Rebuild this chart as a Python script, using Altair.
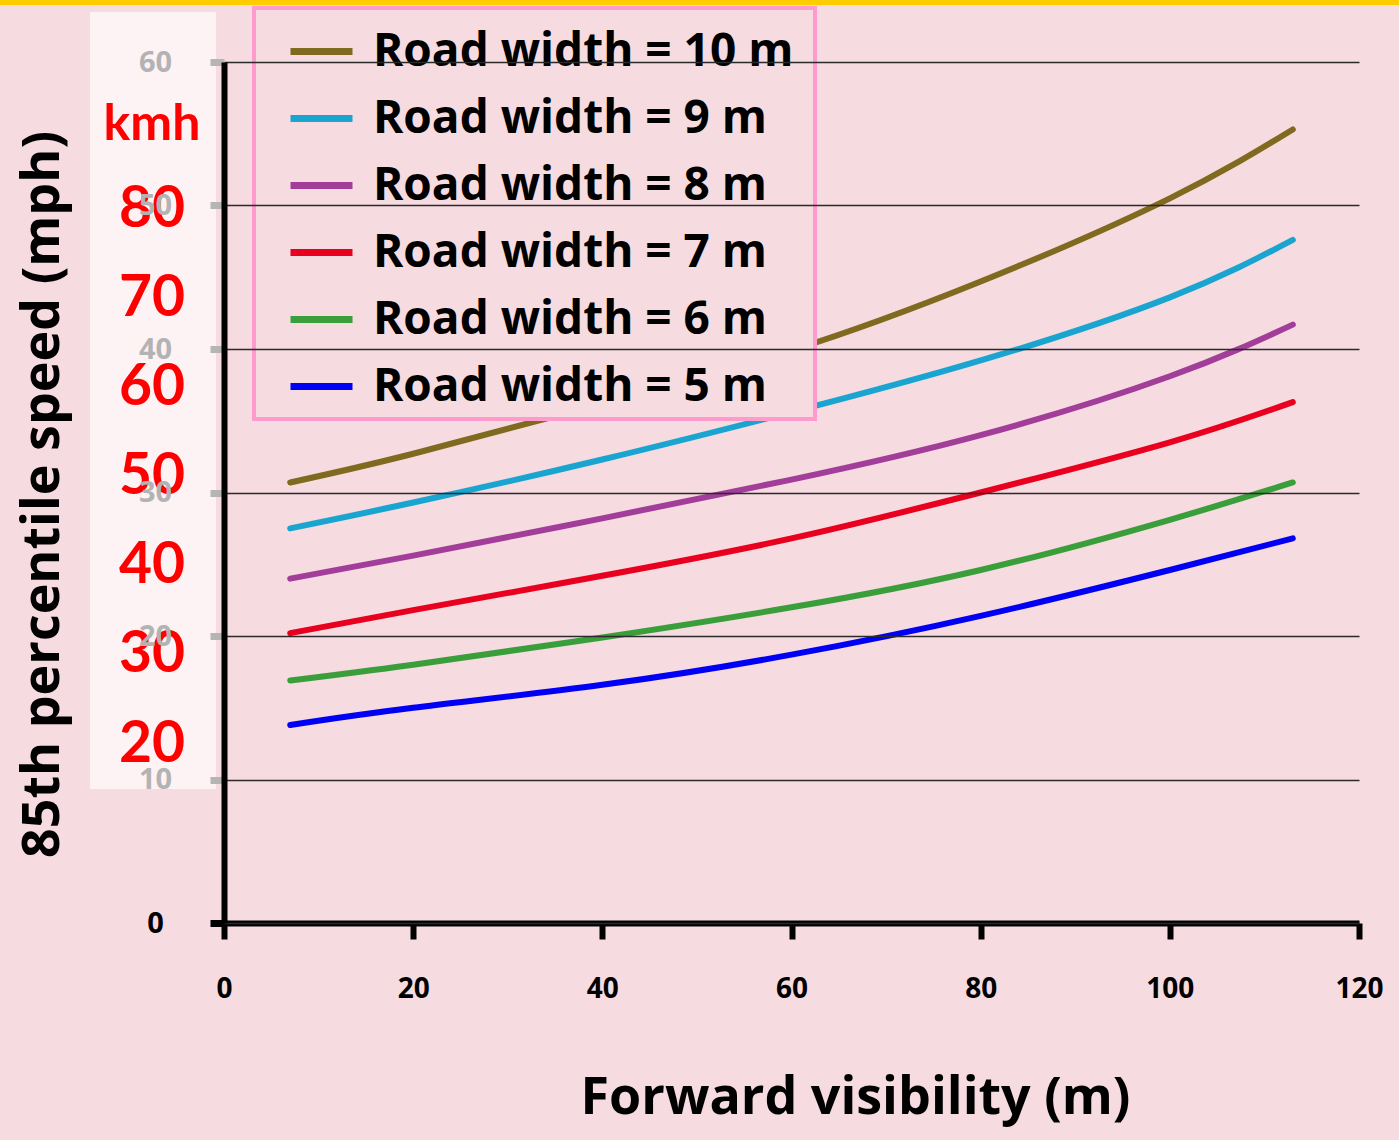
import altair as alt
import pandas as pd

# ---- data ----
visibility = [7, 20, 40, 60, 80, 100, 113]
series_labels = [
    "Road width = 10  m",
    "Road width = 9 m",
    "Road width = 8 m",
    "Road width = 7 m",
    "Road width = 6 m",
    "Road width = 5 m",
]
speed_w10 = [30.7, 32.7, 36.2, 39.9, 44.7, 50.5, 55.3]
speed_w9 = [27.5, 29.3, 32.3, 35.6, 39.2, 43.6, 47.6]
speed_w8 = [24.0, 25.6, 28.2, 30.9, 34.0, 38.1, 41.7]
speed_w7 = [20.2, 21.8, 24.2, 26.8, 30.0, 33.5, 36.3]
speed_w6 = [16.9, 18.0, 19.9, 22.0, 24.6, 28.1, 30.7]
speed_w5 = [13.8, 15.0, 16.6, 18.7, 21.4, 24.6, 26.8]
series_colors = ["#7F6A1F", "#19A5D0", "#A23E9A", "#E8001E", "#3A9E3A", "#0000F5"]

kmh_values = [80, 70, 60, 50, 40, 30, 20]
x_ticks = [0, 20, 40, 60, 80, 100, 120]
y_ticks = [0, 10, 20, 30, 40, 50, 60]

BG = "#F6DBE0"

rows = []
for lab, ys in zip(series_labels, [speed_w10, speed_w9, speed_w8, speed_w7, speed_w6, speed_w5]):
    for x, y in zip(visibility, ys):
        rows.append({"vis": x, "speed": y, "series": lab})
df = pd.DataFrame(rows)

W, H = 1135, 861

y_scale = alt.Scale(domain=[0, 60], nice=False, zero=True)
x_scale = alt.Scale(domain=[0, 120], nice=False)

# yellow strip at the top of the picture
strip = alt.Chart(pd.DataFrame({"k": [0]})).mark_rect(color="#FFCC00").encode(
    x=alt.value(-224), x2=alt.value(1175), y=alt.value(-62), y2=alt.value(-57)
)

# white panel behind the kmh labels
panel = alt.Chart(pd.DataFrame({"k": [0]})).mark_rect(color="#FDF3F5").encode(
    x=alt.value(-134), x2=alt.value(-8), y=alt.value(-50), y2=alt.value(727)
)

lines = alt.Chart(df).mark_line(strokeWidth=6, strokeCap="round", interpolate="natural").encode(
    x=alt.X(
        "vis:Q",
        scale=x_scale,
        axis=alt.Axis(
            values=x_ticks,
            grid=False,
            domainColor="black",
            domainWidth=6,
            tickColor="black",
            tickWidth=6,
            tickSize=16,
            labelFont="Open Sans",
            labelFontWeight="bold",
            labelFontSize=28,
            labelColor="black",
            labelPadding=36,
            labelFlush=False,
            title="Forward visibility (m)",
            titleFont="Open Sans",
            titleFontWeight="bold",
            titleFontSize=52,
            titleColor="black",
            titleX=631,
            titleY=174,
            titleBaseline="middle",
            titleAlign="center",
        ),
    ),
    y=alt.Y(
        "speed:Q",
        scale=y_scale,
        axis=alt.Axis(
            values=y_ticks,
            grid=True,
            gridColor="#2a2a2a",
            gridWidth=1.5,
            domainColor="black",
            domainWidth=6,
            tickColor={"condition": {"test": "datum.value === 0", "value": "#000000"}, "value": "#b5b5b5"},
            tickWidth=7,
            tickSize=14,
            labelFont="Open Sans",
            labelFontWeight="bold",
            labelFontSize=29,
            labelColor={"condition": {"test": "datum.value === 0", "value": "#000000"}, "value": "#b3b3b3"},
            labelAlign="center",
            labelPadding=55,
            labelFlush=False,
            title="85th percentile speed (mph)",
            titleFont="Open Sans",
            titleFontWeight="bold",
            titleFontSize=52,
            titleColor="black",
            titleX=-182,
            titleY=432,
            titleAngle=-90,
            titleAlign="center",
            titleBaseline="middle",
            zindex=1,
        ),
    ),
    color=alt.Color(
        "series:N",
        scale=alt.Scale(domain=series_labels, range=series_colors),
        legend=alt.Legend(
            orient="none",
            legendX=30,
            legendY=-54,
            title=None,
            symbolType="stroke",
        ),
    ),
)

kmh_df = pd.DataFrame({"kmh": kmh_values})
kmh_labels = alt.Chart(kmh_df).transform_calculate(
    mph="datum.kmh / 1.609344", txt="toString(datum.kmh)"
).mark_text(
    font="Lato", fontWeight="bold", fontSize=57, color="#FF0000", align="center", baseline="middle"
).encode(
    x=alt.value(-72),
    y=alt.Y("mph:Q", scale=y_scale),
    text="txt:N",
)

kmh_unit = alt.Chart(pd.DataFrame({"t": ["kmh"]})).mark_text(
    font="Lato", fontWeight="bold", fontSize=50, color="#FF0000", align="center", baseline="middle"
).encode(x=alt.value(-72), y=alt.value(63), text="t:N")

chart = alt.layer(strip, panel, kmh_labels, kmh_unit, lines).properties(
    width=W,
    height=H,
    background=BG,
    padding={"left": 224, "top": 62, "right": 40, "bottom": 217},
    autosize=alt.AutoSizeParams(type="none"),
).configure_view(strokeWidth=0).configure_legend(
    strokeColor="#FF9ACD",
    strokeWidth=4,
    fillColor=BG,
    padding=9,
    symbolSize=3844,
    symbolStrokeWidth=7,
    symbolOffset=24,
    labelFont="Open Sans",
    labelFontWeight="bold",
    labelFontSize=46,
    labelColor="black",
    labelOffset=17,
    labelLimit=800,
    rowPadding=9,
)

chart.save("out.html", embed_options={"renderer": "svg", "actions": False})
